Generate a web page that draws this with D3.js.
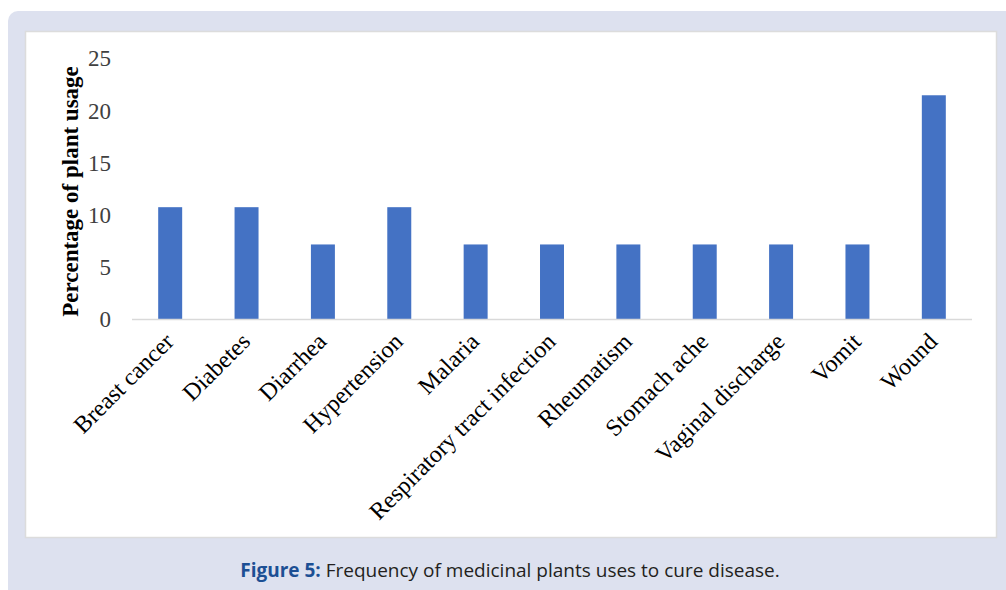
<!DOCTYPE html>
<html><head><meta charset="utf-8">
<script src="https://cdn.jsdelivr.net/npm/d3@7"></script>
<style>
html,body{margin:0;padding:0;background:#fff;}
svg{display:block;}
</style></head>
<body>
<svg id="chart" width="1006" height="590"></svg>
<script>
const categories = ["Breast cancer","Diabetes","Diarrhea","Hypertension","Malaria","Respiratory tract infection","Rheumatism","Stomach ache","Vaginal discharge","Vomit","Wound"];
const values = [10.71,10.71,7.14,10.71,7.14,7.14,7.14,7.14,7.14,7.14,21.43];
const yTicks = [0,5,10,15,20,25];
const yTitle = "Percentage of plant usage";
const captionBold = "Figure 5:";
const captionText = " Frequency of medicinal plants uses to cure disease.";

const svg = d3.select("#chart");
// outer panel
svg.append("rect").attr("x",8).attr("y",11).attr("width",1010).attr("height",600).attr("rx",10)
  .attr("fill","#dde1ef");
// inner white box
svg.append("rect").attr("x",25.5).attr("y",31.5).attr("width",971).attr("height",506)
  .attr("fill","#fff").attr("stroke","#dcdcdc").attr("stroke-width",1.5);

const x = d3.scaleBand().domain(categories).range([132,972]).paddingInner(0.686).paddingOuter(0.343);
const y = d3.scaleLinear().domain([0,25]).range([319,58]);

// bars
svg.append("g").selectAll("rect").data(values).join("rect")
  .attr("x",(d,i)=>x(categories[i]))
  .attr("y",d=>y(d))
  .attr("width",x.bandwidth())
  .attr("height",d=>y(0)-y(d))
  .attr("fill","#4472c4");

// baseline
svg.append("line").attr("x1",132).attr("x2",972).attr("y1",y(0)+0.5).attr("y2",y(0)+0.5)
  .attr("stroke","#d9d9d9").attr("stroke-width",1.5);

// y axis labels
const yAxis = d3.axisLeft(y).tickValues(yTicks).tickSize(0).tickPadding(0);
const gy = svg.append("g").attr("transform","translate(111,0)").call(yAxis);
gy.select(".domain").remove();
gy.selectAll("text").attr("font-family","'Liberation Serif','Times New Roman',serif")
  .attr("font-size",23).attr("fill","#404040").attr("dy","0.34em");

// y title
svg.append("text").attr("transform","translate(78,"+((319+58)/2+3)+") rotate(-90)")
  .attr("text-anchor","middle").attr("font-family","'Liberation Serif','Times New Roman',serif")
  .attr("font-weight","bold").attr("font-size",23).attr("fill","#000").text(yTitle);

// x labels
const xAxis = d3.axisBottom(x).tickSize(0).tickPadding(0);
const gx = svg.append("g").attr("transform","translate(0,0)").call(xAxis);
gx.select(".domain").remove();
gx.selectAll(".tick").attr("transform",d=>"translate("+(x(d)+x.bandwidth()/2+5)+",343)");
gx.selectAll("text").attr("y",0).attr("dy",0).attr("x",0)
  .attr("transform","rotate(-45)").attr("text-anchor","end")
  .attr("font-family","'Liberation Serif','Times New Roman',serif")
  .attr("font-size",24).attr("fill","#000");

// caption
const cap = svg.append("text").attr("x",510).attr("y",577).attr("text-anchor","middle")
  .attr("font-family","'Open Sans','Noto Sans',sans-serif").attr("font-size",19);
cap.append("tspan").attr("font-weight","bold").attr("fill","#1c4f94").text(captionBold);
cap.append("tspan").attr("fill","#231f20").text(captionText);
</script>
</body></html>
